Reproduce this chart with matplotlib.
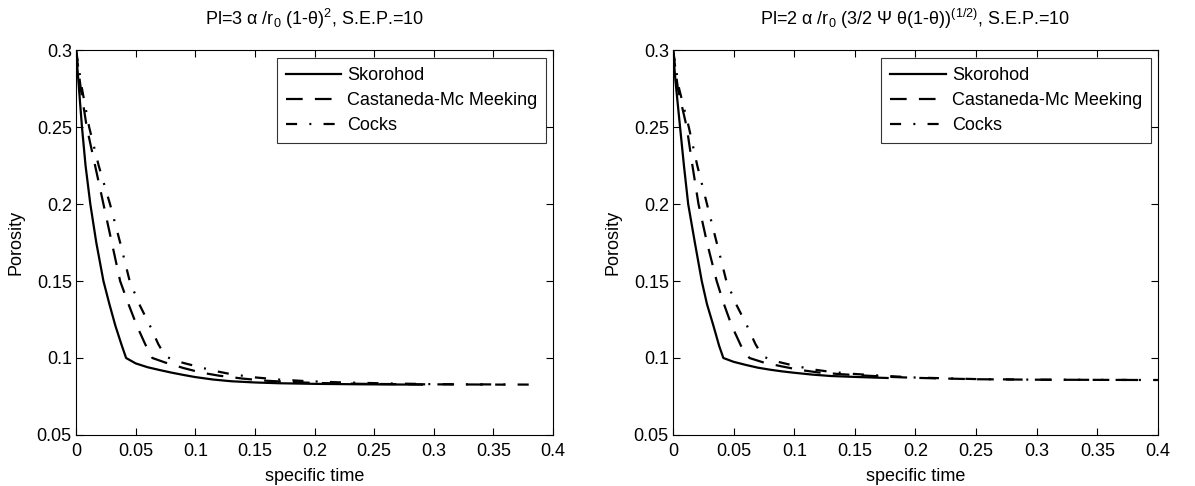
import matplotlib
matplotlib.use("Agg")
import matplotlib.pyplot as plt
from matplotlib.ticker import FormatStrFormatter

plt.rcParams["font.family"] = ["Liberation Sans", "DejaVu Sans"]
plt.rcParams["mathtext.default"] = "regular"

# --- data ---
# left panel: Pl = 3 alpha / r0 (1-theta)^2
l_sk_x = [0, 0.002, 0.005, 0.008, 0.012, 0.017, 0.023, 0.028, 0.033, 0.038, 0.042,
          0.05, 0.06, 0.07, 0.08, 0.09, 0.1, 0.115, 0.13, 0.15, 0.17, 0.2, 0.24, 0.29]
l_sk_y = [0.300, 0.280, 0.250, 0.225, 0.200, 0.175, 0.150, 0.135, 0.121, 0.109, 0.100,
          0.0965, 0.0940, 0.0922, 0.0905, 0.0890, 0.0876, 0.0860, 0.0849, 0.0841, 0.0836,
          0.0832, 0.0829, 0.0827]
l_cm_x = [0, 0.004, 0.009, 0.016, 0.023, 0.030, 0.037, 0.044, 0.051, 0.058, 0.064,
          0.075, 0.09, 0.105, 0.12, 0.14, 0.16, 0.18, 0.2, 0.24, 0.29, 0.36]
l_cm_y = [0.300, 0.275, 0.250, 0.225, 0.200, 0.175, 0.150, 0.135, 0.121, 0.109, 0.100,
          0.0970, 0.0935, 0.0905, 0.0885, 0.0866, 0.0852, 0.0844, 0.0838, 0.0832, 0.0829,
          0.0827]
l_co_x = [0, 0.005, 0.011, 0.019, 0.0285, 0.037, 0.045, 0.053, 0.062, 0.069, 0.075,
          0.085, 0.1, 0.115, 0.13, 0.15, 0.17, 0.19, 0.22, 0.26, 0.3, 0.385]
l_co_y = [0.300, 0.275, 0.250, 0.225, 0.200, 0.175, 0.150, 0.135, 0.121, 0.109, 0.101,
          0.0978, 0.0948, 0.0918, 0.0895, 0.0874, 0.0860, 0.0851, 0.0842, 0.0835, 0.0830,
          0.0827]

# right panel: Pl = 2 alpha / r0 (3/2 Psi theta (1-theta))^(1/2)
r_sk_x = [0, 0.002, 0.0058, 0.009, 0.0125, 0.018, 0.0237, 0.028, 0.0333, 0.038, 0.0415,
          0.05, 0.06, 0.07, 0.08, 0.09, 0.1, 0.115, 0.13, 0.15, 0.177]
r_sk_y = [0.300, 0.280, 0.250, 0.225, 0.200, 0.175, 0.150, 0.135, 0.121, 0.108, 0.100,
          0.0975, 0.0955, 0.0937, 0.0924, 0.0913, 0.0904, 0.0892, 0.0883, 0.0877, 0.0870]
r_cm_x = [0, 0.004, 0.0113, 0.016, 0.021, 0.028, 0.036, 0.042, 0.0484, 0.056, 0.063,
          0.075, 0.09, 0.105, 0.12, 0.14, 0.16, 0.18, 0.2, 0.25, 0.3, 0.39]
r_cm_y = [0.300, 0.275, 0.250, 0.225, 0.200, 0.175, 0.150, 0.135, 0.121, 0.108, 0.100,
          0.0970, 0.0945, 0.0922, 0.0906, 0.0894, 0.0885, 0.0877, 0.0871, 0.0862, 0.0859,
          0.0857]
r_co_x = [0, 0.005, 0.013, 0.020, 0.028, 0.036, 0.044, 0.052, 0.061, 0.068, 0.074,
          0.085, 0.1, 0.115, 0.13, 0.15, 0.17, 0.2, 0.25, 0.3, 0.4]
r_co_y = [0.300, 0.275, 0.250, 0.225, 0.200, 0.175, 0.150, 0.135, 0.121, 0.109, 0.101,
          0.0978, 0.0950, 0.0926, 0.0910, 0.0896, 0.0886, 0.0873, 0.0863, 0.0859, 0.0857]

labels = ["Skorohod", "Castaneda-Mc Meeking", "Cocks"]
titles = ["Pl=3 α /$r_0$ (1-θ$)^2$, S.E.P.=10",
          "Pl=2 α /$r_0$ (3/2 Ψ θ(1-θ)$)^{(1/2)}$, S.E.P.=10"]

panels = [
    [(l_sk_x, l_sk_y), (l_cm_x, l_cm_y), (l_co_x, l_co_y)],
    [(r_sk_x, r_sk_y), (r_cm_x, r_cm_y), (r_co_x, r_co_y)],
]

FS = 13
LW = 1.6
fig = plt.figure(figsize=(11.95, 4.86), dpi=100)
rects = [[0.0636, 0.105, 0.3992, 0.792], [0.5632, 0.105, 0.4058, 0.792]]

for rect, title, series in zip(rects, titles, panels):
    ax = fig.add_axes(rect)
    (sx, sy), (cx, cy), (kx, ky) = series
    ax.plot(sx, sy, color="black", lw=LW, linestyle="-", label=labels[0])
    ax.plot(cx, cy, color="black", lw=LW, dashes=(7.5, 5.5), label=labels[1])
    ax.plot(kx, ky, color="black", lw=LW, dashes=(5, 5.5, 0.9, 5.5), label=labels[2])

    ax.set_xlim(0, 0.4)
    ax.set_ylim(0.05, 0.3)
    ax.set_xticks([0, 0.05, 0.1, 0.15, 0.2, 0.25, 0.3, 0.35, 0.4])
    ax.set_yticks([0.05, 0.1, 0.15, 0.2, 0.25, 0.3])
    ax.xaxis.set_major_formatter(FormatStrFormatter("%g"))
    ax.yaxis.set_major_formatter(FormatStrFormatter("%g"))
    ax.tick_params(direction="in", length=5, width=0.8, labelsize=FS,
                   top=True, right=True, pad=3)
    ax.tick_params(axis="x", pad=5.5)
    for sp in ax.spines.values():
        sp.set_linewidth(0.8)

    ax.set_title(title, fontsize=FS, pad=18)
    ax.set_xlabel("specific time", fontsize=FS, labelpad=6)
    ax.set_ylabel("Porosity", fontsize=FS, labelpad=9)

    leg = ax.legend(loc="upper right", bbox_to_anchor=(0.986, 0.979), borderaxespad=0,
                    fontsize=FS, frameon=True, fancybox=False, handlelength=3.05,
                    handletextpad=0.35, labelspacing=0.45, borderpad=0.5)
    leg.get_frame().set_edgecolor("black")
    leg.get_frame().set_linewidth(0.8)

fig.savefig("out.png", dpi=100)
